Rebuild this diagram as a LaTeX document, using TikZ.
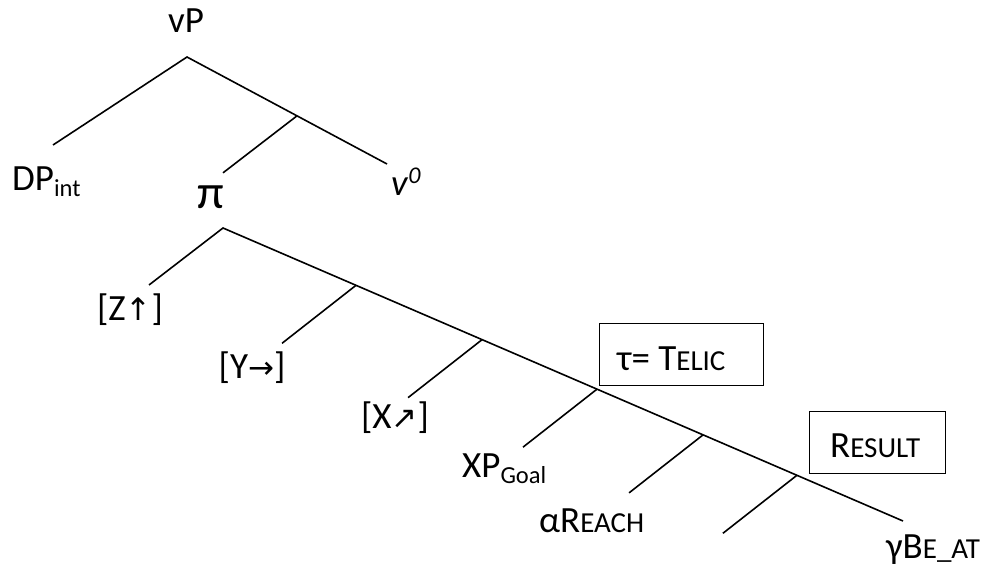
\documentclass[tikz,border=0pt]{standalone}
\usepackage{fontspec}
\setmainfont{Carlito}
\newfontfamily\arrowfont{DejaVu Sans}
\usetikzlibrary{calc}
% synthetic small capitals, subscripts and arrow glyphs
\newcommand\smc[1]{{\fontsize{29}{32}\selectfont #1}}
\newcommand\lowsub[1]{\raisebox{-6pt}{\fontsize{24.5}{28}\selectfont #1}}
\newcommand\arr[1]{{\arrowfont\fontsize{31}{34}\selectfont #1}}
\begin{document}
\begin{tikzpicture}[x=1pt,y=-1pt,
  every node/.style={font=\fontsize{37}{42}\selectfont, inner sep=0pt},
  lbl/.style={anchor=base},
  lblw/.style={anchor=base west},
  branch/.style={line width=1.6pt},
  framebox/.style={draw, line width=1.3pt, anchor=north west, minimum height=62pt}]
\useasboundingbox (0,0) rectangle (995,572);

% upper tree: vP
\coordinate (vPtop) at (187,57);
\coordinate (dpEnd) at (53,145);
\coordinate (vzEnd) at (387,164);
\coordinate (vbar) at ($(vPtop)!0.55!(vzEnd)$);
\coordinate (piEnd) at ($(vbar)+(-74,57)$);

\node[lbl] (vP) at (186,33) {vP};
\node[lblw] (DP) at (12,190) {DP\lowsub{int}};
\node[lbl, font=\fontsize{48}{54}\selectfont] (pi) at (211,208) {π};
\node[lblw] (v0) at (391,196) {\textit{v}\raisebox{13pt}{\fontsize{24}{28}\selectfont\itshape 0}};

\draw[branch] (dpEnd) -- (vPtop) -- (vzEnd);
\draw[branch] (vbar) -- (piEnd);

% lower tree: pi spine
\coordinate (piTop) at (223,228);
\coordinate (zEnd) at (149,285);
\coordinate (spineEnd) at (903,521);
\foreach \t [count=\i] in {0.1956,0.381,0.55,0.706,0.844} {
  \coordinate (s\i) at ($(piTop)!\t!(spineEnd)$);
  \coordinate (e\i) at ($(s\i)+(-74,58)$);
}
\draw[branch] (zEnd) -- (piTop) -- (spineEnd);
\foreach \i in {1,...,5} { \draw[branch] (s\i) -- (e\i); }

\node[lbl] (zlab) at (130,320) {[Z\arr{↑}]};
\node[lbl] (ylab) at (252,378) {[Y\arr{→}]};
\node[lbl] (xlab) at (395,428) {[X\arr{↗}]};
\node[lblw] (xp) at (462,477) {XP\lowsub{Goal}};
\node[lblw] (reach) at (539,532) {αR\smc{EACH}};
\node[lblw] (beat) at (886,558) {γB\smc{E\_AT}};

% boxed feature labels
\node[framebox, minimum width=164pt] (telicbox) at (599,323) {};
\node[lblw] (telic) at (617,370) {τ= T\smc{ELIC}};
\node[framebox, minimum width=136pt] (resultbox) at (809,411) {};
\node[lblw] (result) at (830,457) {R\smc{ESULT}};
\end{tikzpicture}
\end{document}
